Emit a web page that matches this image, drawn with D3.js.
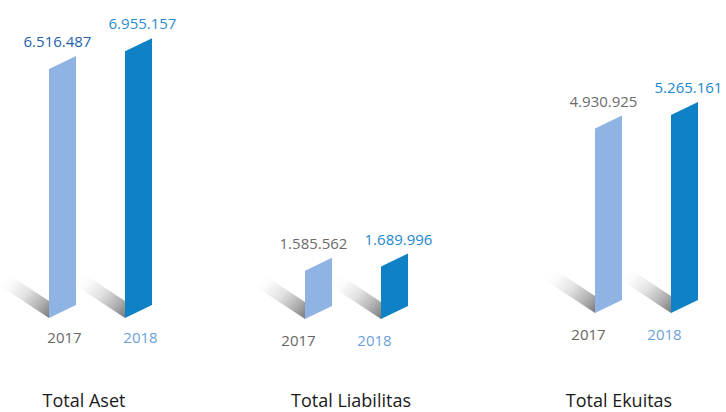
<!DOCTYPE html>
<html><head><meta charset="utf-8">
<script src="https://cdn.jsdelivr.net/npm/d3@7"></script>
<style>html,body{margin:0;padding:0;background:#fff;}svg{display:block;font-family:"Open Sans",sans-serif;}</style>
</head><body><svg id="c" width="726" height="412"></svg>
<script>
// ---- data ----
const categories = ["Total Aset", "Total Liabilitas", "Total Ekuitas"];
const years = ["2017", "2018"];
const values2017 = [6516487, 1585562, 4930925];
const values2018 = [6955157, 1689996, 5265161];
const valueLabels2017 = ["6.516.487", "1.585.562", "4.930.925"];
const valueLabels2018 = ["6.955.157", "1.689.996", "5.265.161"];

// ---- layout / style ----
const barW = 27, slant = 13, pairGap = 76;
const groupLeft = d3.scaleOrdinal().domain(categories).range([49, 305, 595]);
const groupBase = d3.scaleOrdinal().domain(categories).range([318, 319, 313]);
const yearDx = d3.scaleOrdinal().domain(categories).range([2, -20, -20]);
const yearBase = d3.scaleOrdinal().domain(categories).range([343, 346, 340]);
const catX = d3.scaleOrdinal().domain(categories).range([84, 351, 619]);
const barColor = d3.scaleOrdinal().domain(years).range(["#8FB4E3", "#0F82C5"]);
const yearColor = d3.scaleOrdinal().domain(years).range(["#666666", "#6CA0DA"]);
const valueColors = [["#1F62AC", "#2B8BD1"], ["#6B6B6B", "#1C87CF"], ["#6B6B6B", "#1C87CF"]];
const labelDx = d3.scaleOrdinal().domain(years).range([-5, 4]);

const hScale = d3.scaleLinear().domain([400000, 7000000]).range([0, 268.6]);

const svg = d3.select("#c");
const defs = svg.append("defs");
const grad = defs.append("linearGradient").attr("id", "shadowGrad")
  .attr("x1", 1).attr("y1", 1).attr("x2", 0.1).attr("y2", 0.2);
grad.append("stop").attr("offset", 0).attr("stop-color", "#7a7a7a");
grad.append("stop").attr("offset", 0.25).attr("stop-color", "#b0b0b0");
grad.append("stop").attr("offset", 0.55).attr("stop-color", "#e2e2e2");
grad.append("stop").attr("offset", 0.85).attr("stop-color", "#fbfbfb");
grad.append("stop").attr("offset", 1).attr("stop-color", "#ffffff");

const bars = [];
categories.forEach((c, i) => {
  [values2017[i], values2018[i]].forEach((v, j) => {
    bars.push({cat: c, gi: i, year: years[j], yi: j, value: v,
      label: j === 0 ? valueLabels2017[i] : valueLabels2018[i]});
  });
});
bars.forEach(b => {
  b.x0 = groupLeft(b.cat) + b.yi * pairGap;
  b.yb = groupBase(b.cat);
  b.h = hScale(b.value);
});

const line = d3.line();
// shadows
const sdx = 50, sdy = 33, sth = 17;
svg.append("g").selectAll("path").data(bars).join("path")
  .attr("d", b => line([[b.x0, b.yb], [b.x0, b.yb - sth], [b.x0 - sdx, b.yb - sth - sdy], [b.x0 - sdx, b.yb - sdy]]) + "Z")
  .attr("fill", "url(#shadowGrad)");

// bars
svg.append("g").selectAll("path").data(bars).join("path")
  .attr("d", b => line([[b.x0, b.yb], [b.x0, b.yb - b.h], [b.x0 + barW, b.yb - b.h - slant], [b.x0 + barW, b.yb - slant]]) + "Z")
  .attr("fill", b => barColor(b.year));

// value labels
svg.append("g").selectAll("text").data(bars).join("text")
  .attr("x", b => b.x0 + barW / 2 + labelDx(b.year))
  .attr("y", b => b.yb - b.h - slant - 9)
  .attr("text-anchor", "middle")
  .attr("font-size", 15)
  .attr("fill", b => valueColors[b.gi][b.yi])
  .text(b => b.label);

// year labels
svg.append("g").selectAll("text").data(bars).join("text")
  .attr("x", b => b.x0 + barW / 2 + yearDx(b.cat))
  .attr("y", b => yearBase(b.cat))
  .attr("text-anchor", "middle")
  .attr("font-size", 15)
  .attr("fill", b => yearColor(b.year))
  .text(b => b.year);

// category labels
svg.append("g").selectAll("text").data(categories).join("text")
  .attr("x", c => catX(c))
  .attr("y", 407)
  .attr("text-anchor", "middle")
  .attr("font-size", 18)
  .attr("fill", "#1a1a1a")
  .text(c => c);
</script>
</body></html>
